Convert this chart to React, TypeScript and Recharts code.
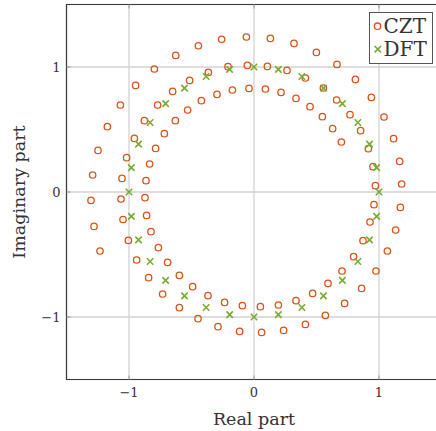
import {
  CartesianGrid,
  Legend,
  ReferenceArea,
  Scatter,
  ScatterChart,
  XAxis,
  YAxis,
} from "recharts";

const CZT_COLOR = "#d95319";
const DFT_COLOR = "#77ac30";
const TEXT_COLOR = "#333333";
const FONT = "'DejaVu Serif', 'Liberation Serif', serif";

const PLOT_TOP = 4.5;
const TICK_GAP = 8;

// chirp-z contour, sampled along the spiral (real / imaginary parts)
const cztRe = [
  -1.232, -1.28, -1.304, -1.291, -1.248, -1.173, -1.069, -0.947, -0.797, -0.626,
  -0.445, -0.259, -0.061, 0.131, 0.32, 0.499, 0.664, 0.811, 0.939, 1.04,
  1.117, 1.165, 1.181, 1.171, 1.133, 1.067, 0.976, 0.861, 0.725, 0.571,
  0.411, 0.237, 0.061, -0.115, -0.288, -0.448, -0.597, -0.731, -0.843, -0.939,
  -1.005, -1.048, -1.064, -1.056, -1.019, -0.957, -0.877, -0.771, -0.651, -0.515,
  -0.365, -0.208, -0.053, 0.107, 0.264, 0.411, 0.555, 0.661, 0.768, 0.853,
  0.915, 0.952, 0.971, 0.96, 0.928, 0.872, 0.797, 0.704, 0.592, 0.469,
  0.336, 0.195, 0.051, -0.093, -0.235, -0.368, -0.491, -0.597, -0.691, -0.765,
  -0.824, -0.859, -0.872, -0.864, -0.835, -0.787, -0.717, -0.629, -0.531, -0.421,
  -0.296, -0.173, -0.04, 0.091, 0.216, 0.336, 0.448, 0.547, 0.629, 0.699,
];
const cztIm = [
  -0.472, -0.275, -0.067, 0.136, 0.333, 0.523, 0.696, 0.853, 0.984, 1.093,
  1.17, 1.222, 1.24, 1.229, 1.189, 1.117, 1.021, 0.901, 0.757, 0.6,
  0.427, 0.245, 0.064, -0.123, -0.304, -0.472, -0.632, -0.771, -0.891, -0.987,
  -1.059, -1.107, -1.123, -1.115, -1.077, -1.013, -0.925, -0.816, -0.685, -0.544,
  -0.387, -0.22, -0.056, 0.109, 0.275, 0.429, 0.571, 0.696, 0.805, 0.893,
  0.957, 1.003, 1.013, 1.005, 0.973, 0.912, 0.832, 0.736, 0.619, 0.491,
  0.347, 0.203, 0.051, -0.101, -0.24, -0.389, -0.517, -0.632, -0.731, -0.811,
  -0.869, -0.904, -0.917, -0.909, -0.883, -0.829, -0.757, -0.667, -0.563, -0.445,
  -0.317, -0.187, -0.045, 0.091, 0.224, 0.349, 0.467, 0.571, 0.656, 0.731,
  0.781, 0.816, 0.829, 0.824, 0.797, 0.749, 0.683, 0.603, 0.507, 0.4,
];

// DFT bins on the unit circle
const dftRe = [
  1, 0.981, 0.924, 0.831, 0.707, 0.556, 0.383, 0.195,
  0, -0.195, -0.383, -0.556, -0.707, -0.831, -0.924, -0.981,
  -1, -0.981, -0.924, -0.831, -0.707, -0.556, -0.383, -0.195,
  0, 0.195, 0.383, 0.556, 0.707, 0.831, 0.924, 0.981,
];
const dftIm = [
  0, 0.195, 0.383, 0.556, 0.707, 0.831, 0.924, 0.981,
  1, 0.981, 0.924, 0.831, 0.707, 0.556, 0.383, 0.195,
  0, -0.195, -0.383, -0.556, -0.707, -0.831, -0.924, -0.981,
  -1, -0.981, -0.924, -0.831, -0.707, -0.556, -0.383, -0.195,
];

const axisTicks = [-1, 0, 1];
const axisDomain: [number, number] = [-1.5, 1.5];

const cztPoints = cztRe.map((re, i) => ({ re, im: cztIm[i] }));
const dftPoints = dftRe.map((re, i) => ({ re, im: dftIm[i] }));

const fmtTick = (v: number) => (v < 0 ? `\u2212${Math.abs(v)}` : `${v}`);

function RingMarker({ cx, cy }: { cx?: number; cy?: number }) {
  if (cx == null || cy == null) return null;
  return (
    <circle cx={cx} cy={cy} r={3.2} fill="none" stroke={CZT_COLOR} strokeWidth={1.3} />
  );
}

function CrossMarker({ cx, cy }: { cx?: number; cy?: number }) {
  if (cx == null || cy == null) return null;
  const s = 3.2;
  return (
    <path
      d={`M${cx - s},${cy - s}L${cx + s},${cy + s}M${cx - s},${cy + s}L${cx + s},${cy - s}`}
      stroke={DFT_COLOR}
      strokeWidth={1.6}
      fill="none"
    />
  );
}

interface TickProps {
  x?: number;
  y?: number;
  payload?: { value: number };
}

// bottom ticks: label plus short inward marks on bottom and top frame
function XTick({ x = 0, y = 0, payload }: TickProps) {
  const axisY = y - TICK_GAP;
  return (
    <g>
      <line x1={x} x2={x} y1={axisY} y2={axisY - 4} stroke="#999" strokeWidth={1} />
      <line x1={x} x2={x} y1={PLOT_TOP} y2={PLOT_TOP + 4} stroke="#999" strokeWidth={1} />
      <text
        x={x}
        y={y + 9.5}
        textAnchor="middle"
        fontFamily={FONT}
        fontSize={13}
        fill={TEXT_COLOR}
      >
        {fmtTick(payload?.value ?? 0)}
      </text>
    </g>
  );
}

function YTick({ x = 0, y = 0, payload }: TickProps) {
  const axisX = x + 6;
  return (
    <g>
      <line x1={axisX} x2={axisX + 4} y1={y} y2={y} stroke="#999" strokeWidth={1} />
      <text
        x={x}
        y={y + 5}
        textAnchor="end"
        fontFamily={FONT}
        fontSize={13}
        fill={TEXT_COLOR}
      >
        {fmtTick(payload?.value ?? 0)}
      </text>
    </g>
  );
}

function LegendBox() {
  return (
    <svg width={64} height={52} style={{ display: "block" }}>
      <rect x={0.5} y={0.5} width={63} height={51} fill="#fff" stroke="#555" strokeWidth={1} />
      <RingMarker cx={8.5} cy={14.2} />
      <text x={14.5} y={21} fontFamily={FONT} fontSize={20} fill={TEXT_COLOR}>
        CZT
      </text>
      <CrossMarker cx={8.8} cy={37.2} />
      <text x={14.5} y={43.6} fontFamily={FONT} fontSize={20} fill={TEXT_COLOR}>
        DFT
      </text>
    </svg>
  );
}

export default function App() {
  return (
    <div
      style={{
        position: "fixed",
        left: 0,
        top: 0,
        width: 436,
        height: 431,
        overflow: "hidden",
        background: "#fff",
      }}
    >
      <ScatterChart
        width={452}
        height={431}
        margin={{ top: PLOT_TOP, right: 10.5, bottom: 0, left: 0 }}
      >
        <CartesianGrid stroke="#d2d2d2" strokeWidth={1.3} />
        <XAxis
          type="number"
          dataKey="re"
          domain={axisDomain}
          ticks={axisTicks}
          interval={0}
          allowDataOverflow
          height={51.5}
          axisLine={false}
          tickLine={false}
          tickSize={0}
          tickMargin={TICK_GAP}
          tick={<XTick />}
          label={{
            value: "Real part",
            position: "insideBottom",
            offset: 6.5,
            style: { fontFamily: FONT, fontSize: 17.5, fill: TEXT_COLOR },
          }}
        />
        <YAxis
          type="number"
          dataKey="im"
          domain={axisDomain}
          ticks={axisTicks}
          interval={0}
          allowDataOverflow
          width={66.5}
          axisLine={false}
          tickLine={false}
          tickSize={0}
          tickMargin={6}
          tick={<YTick />}
          label={{
            value: "Imaginary part",
            position: "insideLeft",
            angle: -90,
            offset: 18.8,
            style: {
              fontFamily: FONT,
              fontSize: 17.5,
              fill: TEXT_COLOR,
              textAnchor: "middle",
            },
          }}
        />
        <ReferenceArea
          x1={-1.5}
          x2={1.5}
          y1={-1.5}
          y2={1.5}
          fill="none"
          stroke="#3c3c3c"
          strokeWidth={1.2}
        />
        <Scatter
          name="CZT"
          data={cztPoints}
          shape={(p: any) => <RingMarker cx={p.cx} cy={p.cy} />}
          isAnimationActive={false}
        />
        <Scatter
          name="DFT"
          data={dftPoints}
          shape={(p: any) => <CrossMarker cx={p.cx} cy={p.cy} />}
          isAnimationActive={false}
        />
        <Legend
          layout="vertical"
          align="center"
          verticalAlign="middle"
          wrapperStyle={{ left: 368.5, top: 11.5, width: 64, height: 52 }}
          content={() => <LegendBox />}
        />
      </ScatterChart>
    </div>
  );
}
